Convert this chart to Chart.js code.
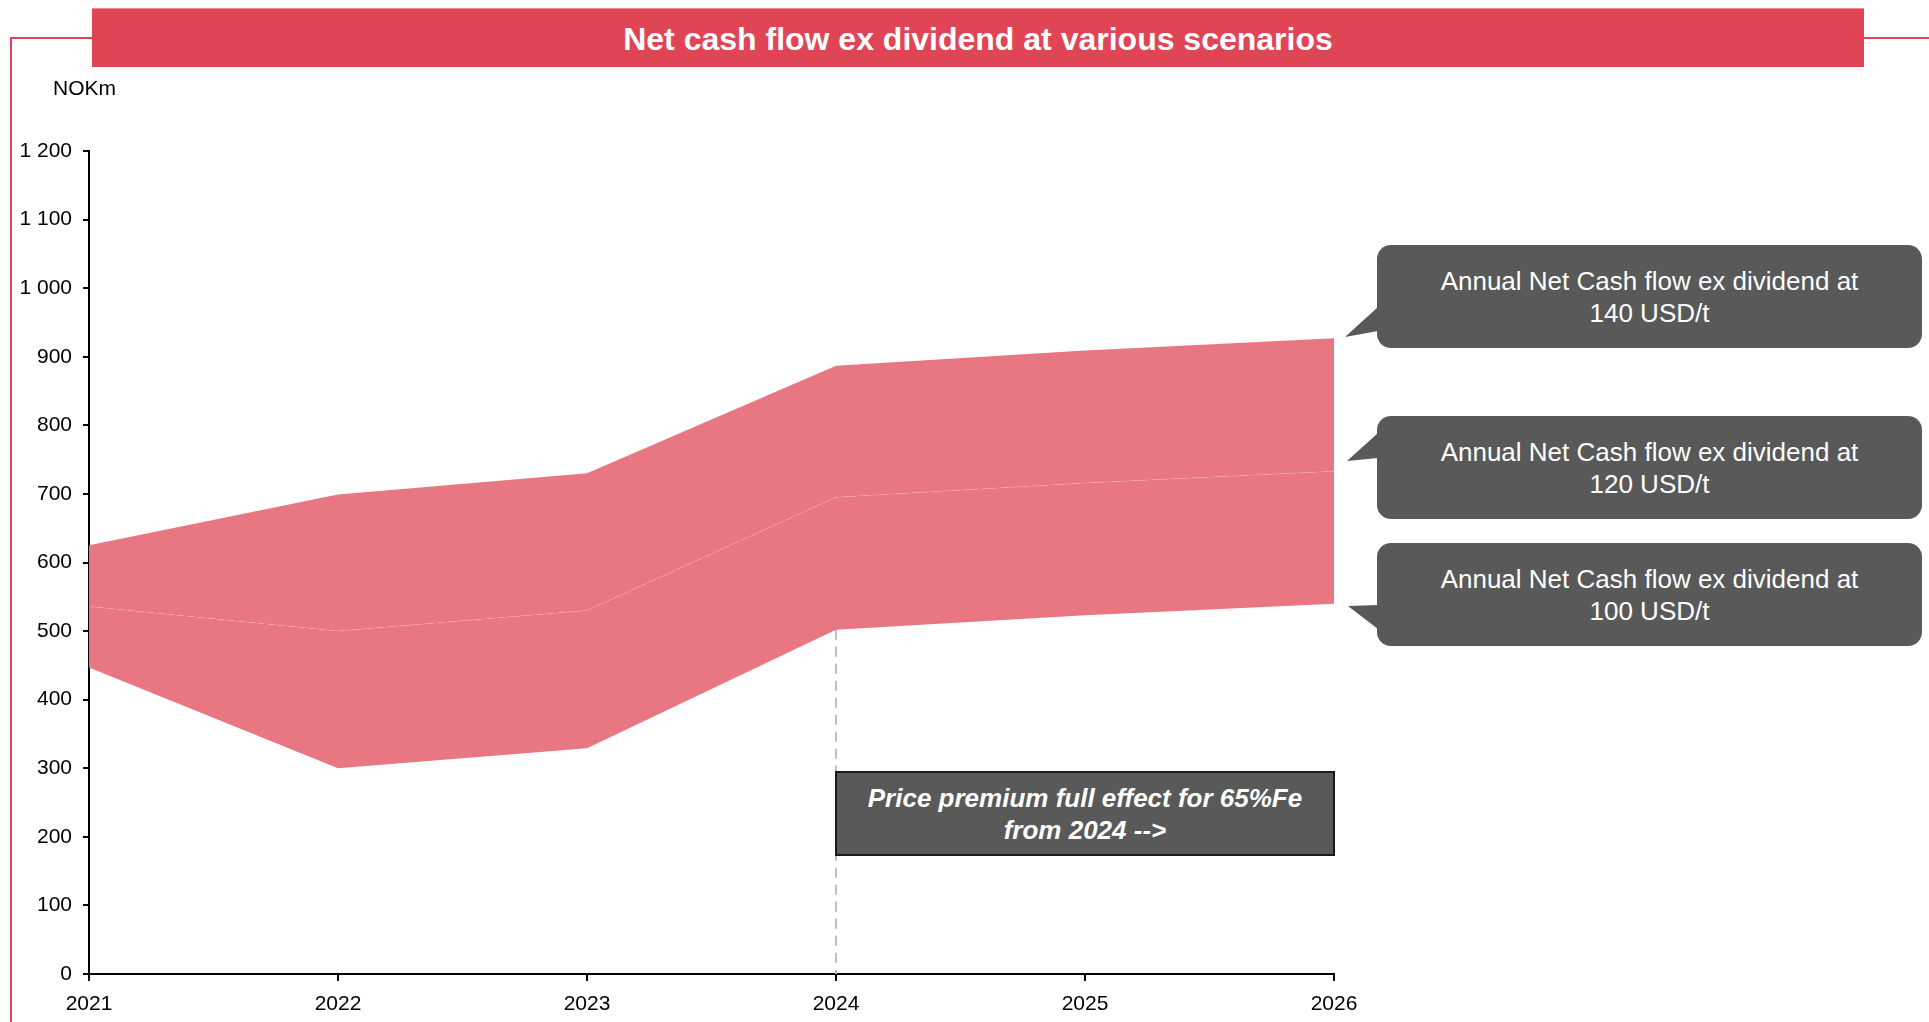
<!DOCTYPE html>
<html>
<head>
<meta charset="utf-8">
<script src="https://cdn.jsdelivr.net/npm/chart.js@4.4.1/dist/chart.umd.min.js"></script>
<style>
    html, body { margin: 0; padding: 0; background: #fff; }
    body { width: 1929px; height: 1022px; position: relative; overflow: hidden;
           font-family: "Liberation Sans", Arial, sans-serif; }
    #chart { position: absolute; left: 0; top: 0; }
    .titleBar { position: absolute; left: 92px; top: 8px; width: 1772px; height: 59px;
                background: #e04556; border-top: 1px solid #ee8a95; box-sizing: border-box;
                color: #fff; font-weight: bold; font-size: 32px; line-height: 60px; text-align: center; }
    .unit { position: absolute; left: 53px; top: 76px; font-size: 21px; color: #000; }
    .callout { position: absolute; left: 1377px; width: 545px; height: 103px; background: #595959;
               border-radius: 14px; color: #fff; font-size: 26px; line-height: 32px;
               display: flex; align-items: center; justify-content: center; text-align: center; }
    .note { position: absolute; left: 835px; top: 771px; width: 500px; height: 85px; box-sizing: border-box;
            background: #595959; border: 2px solid #1a1a1a; color: #fff; font-size: 26px; font-weight: bold;
            font-style: italic; line-height: 32px; display: flex; align-items: center; justify-content: center;
            text-align: center; }
    svg { position: absolute; left: 0; top: 0; }
</style>
</head>
<body>
<canvas id="chart" width="1929" height="1022"></canvas>

<svg width="1929" height="1022">
    <!-- cadre rouge -->
    <polyline points="11,1022 11,38 92,38" fill="none" stroke="#e04556" stroke-width="2"/>
    <line x1="1864" y1="38" x2="1929" y2="38" stroke="#e04556" stroke-width="2"/>
    <!-- pointes des bulles -->
    <polygon points="1378,307 1345,337 1378,331" fill="#595959"/>
    <polygon points="1378,433 1347,461 1378,458" fill="#595959"/>
    <polygon points="1378,605 1348,606 1378,629" fill="#595959"/>
</svg>

<div class="titleBar">Net cash flow ex dividend at various scenarios</div>
<div class="unit">NOKm</div>

<div class="callout" style="top:245px">Annual Net Cash flow ex dividend at<br>140 USD/t</div>
<div class="callout" style="top:416px">Annual Net Cash flow ex dividend at<br>120 USD/t</div>
<div class="callout" style="top:543px">Annual Net Cash flow ex dividend at<br>100 USD/t</div>

<div class="note">Price premium full effect for 65%Fe<br>from 2024 --&gt;</div>

<script>
/* ===========================
   DONNÉES
=========================== */

const years = ["2021", "2022", "2023", "2024", "2025", "2026"];
const cf100 = [447, 300, 329, 502, 523, 540];
const cf120 = [536, 500, 530, 695, 716, 733];
const cf140 = [625, 699, 730, 887, 909, 927];

const premiumYear = "2024";

const fillColor = "#e87783";

function fmtThousands(v) {
    return String(v).replace(/\B(?=(\d{3})+(?!\d))/g, " ");
}

// ligne pointillée verticale à l'année du premium
const premiumLine = {
    id: "premiumLine",
    beforeDatasetsDraw(chart) {
        const { ctx, scales } = chart;
        const idx = years.indexOf(premiumYear);
        const x = scales.x.getPixelForValue(idx);
        const yTop = scales.y.getPixelForValue(cf100[idx]);
        const yBot = scales.y.getPixelForValue(0);
        ctx.save();
        ctx.strokeStyle = "#bfbfbf";
        ctx.lineWidth = 2;
        ctx.setLineDash([10, 7]);
        ctx.beginPath();
        ctx.moveTo(x, yTop);
        ctx.lineTo(x, yBot);
        ctx.stroke();
        ctx.restore();
    }
};

Chart.defaults.font.family = '"Liberation Sans", Arial, sans-serif';
Chart.defaults.font.size = 21;
Chart.defaults.color = "#000";

new Chart(document.getElementById("chart"), {
    type: "line",
    data: {
        labels: years,
        datasets: [
            { label: "100 USD/t", data: cf100, borderWidth: 0, pointRadius: 0, fill: false },
            { label: "120 USD/t", data: cf120, borderWidth: 1, borderColor: "rgba(255,255,255,0.15)",
              borderDash: [6, 4], pointRadius: 0, fill: "-1", backgroundColor: fillColor },
            { label: "140 USD/t", data: cf140, borderWidth: 0, pointRadius: 0, fill: "-1",
              backgroundColor: fillColor }
        ]
    },
    options: {
        responsive: false,
        animation: false,
        layout: { padding: { top: 151, right: 595, left: 0, bottom: 0 } },
        plugins: { legend: { display: false }, tooltip: { enabled: false } },
        scales: {
            x: {
                offset: false,
                grid: { drawOnChartArea: false, drawTicks: true, tickLength: 7, color: "#000", lineWidth: 2 },
                border: { color: "#000", width: 2 },
                ticks: { padding: 11, maxRotation: 0, autoSkip: false },
                afterFit(scale) { scale.height = 48; }
            },
            y: {
                min: 0,
                max: 1200,
                grid: { drawOnChartArea: false, drawTicks: true, tickLength: 6, color: "#000", lineWidth: 2 },
                border: { color: "#000", width: 2 },
                ticks: { stepSize: 100, padding: 11, callback: v => fmtThousands(v) },
                afterFit(scale) { scale.width = 89; }
            }
        }
    },
    plugins: [premiumLine]
});
</script>
</body>
</html>
